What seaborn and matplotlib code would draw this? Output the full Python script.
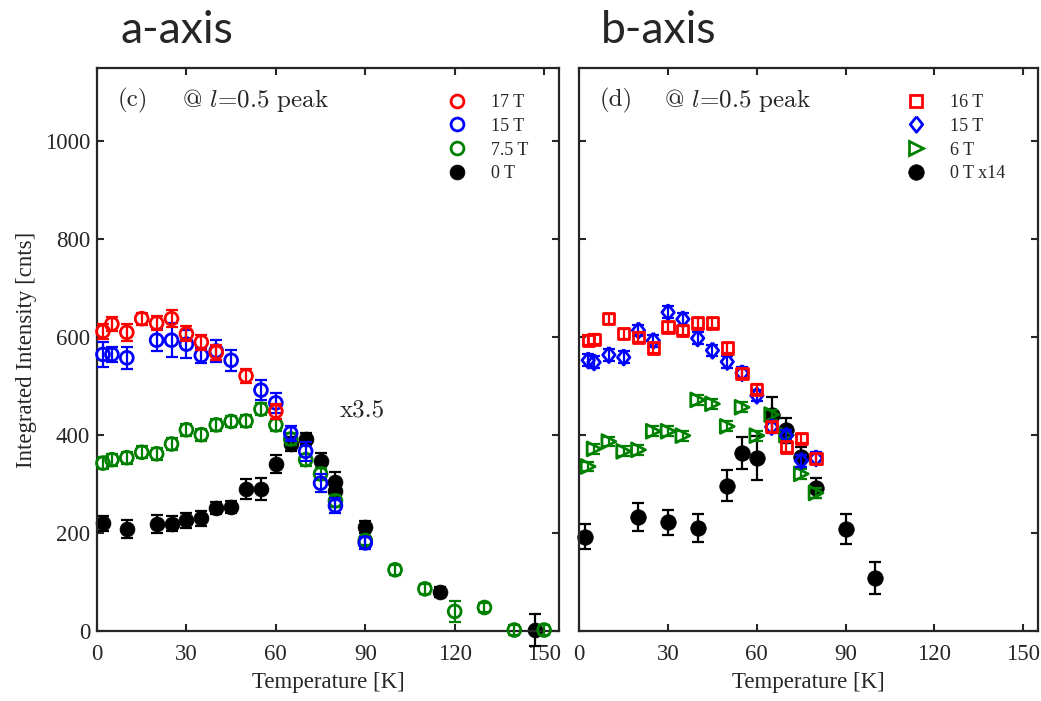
import numpy as np
import matplotlib
matplotlib.use("Agg")
import matplotlib.pyplot as plt
import seaborn as sns
from matplotlib.lines import Line2D

# ---- a-axis data (panel c) ----
a17_T = [2, 5, 10, 15, 20, 25, 30, 35, 40, 50, 60]
a17_I = [612, 627, 610, 638, 629, 638, 607, 590, 569, 521, 449]
a17_E = [15, 15, 18, 12, 15, 18, 15, 15, 15, 15, 15]

a15_T = [2, 5, 10, 20, 25, 30, 35, 40, 45, 55, 60, 65, 70, 75, 80, 90]
a15_I = [565, 565, 558, 594, 594, 586, 563, 572, 553, 492, 466, 404, 367, 302, 256, 180]
a15_E = [25, 15, 22, 22, 35, 28, 15, 22, 22, 20, 20, 15, 20, 18, 15, 12]

a75_T = [2, 5, 10, 15, 20, 25, 30, 35, 40, 45, 50, 55, 60, 65, 70, 75, 80, 90,
         100, 110, 120, 130, 140, 150]
a75_I = [343, 350, 354, 365, 362, 382, 411, 401, 421, 428, 429, 453, 421, 392,
         350, 321, 266, 185, 125, 86, 40, 48, 2, 2]
a75_E = [12, 12, 12, 12, 12, 12, 12, 12, 12, 12, 12, 12, 12, 12, 12, 12, 12, 10,
         10, 10, 22, 10, 10, 10]

a0_T = [2, 10, 20, 25, 30, 35, 40, 45, 50, 55, 60, 65, 70, 75, 80, 80, 90, 115, 147]
a0_I = [220, 208, 218, 219, 226, 230, 251, 253, 290, 290, 341, 382, 392, 348,
        305, 286, 212, 80, 2]
a0_E = [15, 18, 18, 15, 15, 15, 12, 12, 20, 22, 18, 15, 12, 15, 20, 15, 12, 10, 33]

# ---- b-axis data (panel d) ----
b16_T = [3, 5, 10, 15, 20, 25, 30, 35, 40, 45, 50, 55, 60, 65, 70, 75, 80]
b16_I = [594, 596, 638, 607, 600, 578, 621, 614, 629, 629, 578, 526, 494, 417, 376, 393, 352]
b16_E = [10, 10, 10, 10, 10, 10, 10, 10, 10, 10, 10, 10, 10, 10, 10, 10, 10]

b15_T = [3, 5, 10, 15, 20, 25, 30, 35, 40, 45, 50, 55, 60, 65, 70, 75, 80]
b15_I = [553, 549, 564, 559, 614, 593, 651, 637, 598, 573, 550, 527, 481, 417, 399, 348, 353]
b15_E = [12, 12, 12, 12, 12, 12, 12, 12, 12, 12, 12, 12, 12, 12, 12, 12, 12]

b6_T = [3, 5, 10, 15, 20, 25, 30, 35, 40, 45, 50, 55, 60, 65, 70, 75, 80]
b6_I = [336, 372, 387, 367, 370, 408, 408, 399, 472, 464, 418, 457, 399, 442, 400, 321, 282]
b6_E = [10, 10, 10, 10, 10, 10, 10, 10, 10, 10, 10, 10, 10, 10, 10, 10, 10]

b0_T = [2, 20, 30, 40, 50, 55, 60, 65, 70, 75, 80, 90, 100]
b0_I = [193, 233, 222, 210, 297, 364, 354, 442, 410, 355, 292, 208, 108]
b0_E = [25, 28, 25, 28, 32, 33, 45, 35, 25, 20, 20, 30, 33]

x_ticks = [0, 30, 60, 90, 120, 150]
y_ticks = [0, 200, 400, 600, 800, 1000]

sns.set_theme(style="ticks")
plt.rcParams["font.family"] = ["Liberation Serif", "DejaVu Serif"]
plt.rcParams["mathtext.fontset"] = "cm"
plt.rcParams["axes.unicode_minus"] = False

SPINE = "#262626"
fig = plt.figure(figsize=(10.41, 7.01), dpi=100)
fig.patch.set_facecolor("white")
ax1 = fig.add_axes([97 / 1041, 1 - 631 / 701, (559 - 97) / 1041, (631 - 68) / 701])
ax2 = fig.add_axes([579.3 / 1041, 1 - 631 / 701, (1038 - 579.3) / 1041, (631 - 68) / 701])

thin_diamond = [(0, 1), (0.8, 0), (0, -1), (-0.8, 0), (0, 1)]


def series(ax, T, I, E, color, marker, size, filled, label, z):
    lw = 0.5 if filled else 2.0
    sns.scatterplot(x=T, y=I, ax=ax, marker=marker, s=size,
                    facecolor=color if filled else "none",
                    edgecolor=color, linewidth=lw,
                    zorder=z + 0.5, clip_on=False, label=label, legend=False)
    ax.errorbar(T, I, yerr=E, fmt="none", ecolor=color, elinewidth=1.6,
                capsize=4, capthick=1.6, zorder=z, clip_on=False)
    return Line2D([], [], linestyle="none", marker=marker,
                  markersize=np.sqrt(size), markerfacecolor=color if filled else "none",
                  markeredgecolor=color, markeredgewidth=lw)


# panel c
h0 = series(ax1, a0_T, a0_I, a0_E, "black", "o", 115, True, "0 T", 2)
h75 = series(ax1, a75_T, a75_I, a75_E, "#008000", "o", 85, False, "7.5 T", 3)
h15 = series(ax1, a15_T, a15_I, a15_E, "#0000ff", "o", 85, False, "15 T", 4)
h17 = series(ax1, a17_T, a17_I, a17_E, "#ff0000", "o", 85, False, "17 T", 5)

# panel d
g0 = series(ax2, b0_T, b0_I, b0_E, "black", "o", 125, True, "0 T x14", 2)
g6 = series(ax2, b6_T, b6_I, b6_E, "#008000", ">", 100, False, "6 T", 3)
g15 = series(ax2, b15_T, b15_I, b15_E, "#0000ff", thin_diamond, 125, False, "15 T", 4)
g16 = series(ax2, b16_T, b16_I, b16_E, "#ff0000", "s", 65, False, "16 T", 5)

for ax in (ax1, ax2):
    ax.set_xlim(0, 155)
    ax.set_ylim(0, 1150)
    ax.set_xticks(x_ticks)
    ax.set_yticks(y_ticks)
    ax.tick_params(direction="in", length=5, width=1.5, color=SPINE,
                   top=True, right=True, labelsize=16.5, pad=5, labelcolor="#262626")
    ax.tick_params(axis="x", pad=9)
    for sp in ax.spines.values():
        sp.set_visible(True)
        sp.set_linewidth(1.6)
        sp.set_color(SPINE)
    ax.set_xlabel("Temperature [K]", fontsize=16.5, color="#262626")
    ax.xaxis.set_label_coords(0.5, -0.072)
    ax.grid(False)
    ax.set_facecolor("white")

ax2.set_yticklabels([])
ax1.set_ylabel("Integrated Intensity [cnts]", fontsize=16.5, color="#262626")
ax1.yaxis.set_label_coords(-0.13, 0.5)

# panel annotations
ax1.text(0.045, 0.943, "(c)", transform=ax1.transAxes, fontsize=18,
         family="cmr10", va="center", ha="left")
ax1.text(0.185, 0.943, r"@ $l$=0.5 peak", transform=ax1.transAxes, fontsize=18,
         family="cmr10", va="center", ha="left")
ax2.text(0.045, 0.943, "(d)", transform=ax2.transAxes, fontsize=18,
         family="cmr10", va="center", ha="left")
ax2.text(0.185, 0.943, r"@ $l$=0.5 peak", transform=ax2.transAxes, fontsize=18,
         family="cmr10", va="center", ha="left")
ax1.text(89, 450, "x3.5", fontsize=18, family="cmr10", ha="center", va="center")

leg_kw = dict(frameon=False, fontsize=13, handlelength=1.0, handletextpad=1.4,
              labelspacing=0.38, borderpad=0, borderaxespad=0, loc="upper left")
ax1.legend([h17, h15, h75, h0], ["17 T", "15 T", "7.5 T", "0 T"],
           bbox_to_anchor=(0.759, 0.954), **leg_kw)
ax2.legend([g16, g15, g6, g0], ["16 T", "15 T", "6 T", "0 T x14"],
           bbox_to_anchor=(0.714, 0.954), **leg_kw)

# headings
fig.text(120 / 1041, 1 - 43 / 701, "a-axis", fontsize=32, family=["Lato", "DejaVu Sans"],
         va="baseline", ha="left")
fig.text(601 / 1041, 1 - 43 / 701, "b-axis", fontsize=32, family=["Lato", "DejaVu Sans"],
         va="baseline", ha="left")

fig.savefig("out.png", dpi=100, facecolor="white")
